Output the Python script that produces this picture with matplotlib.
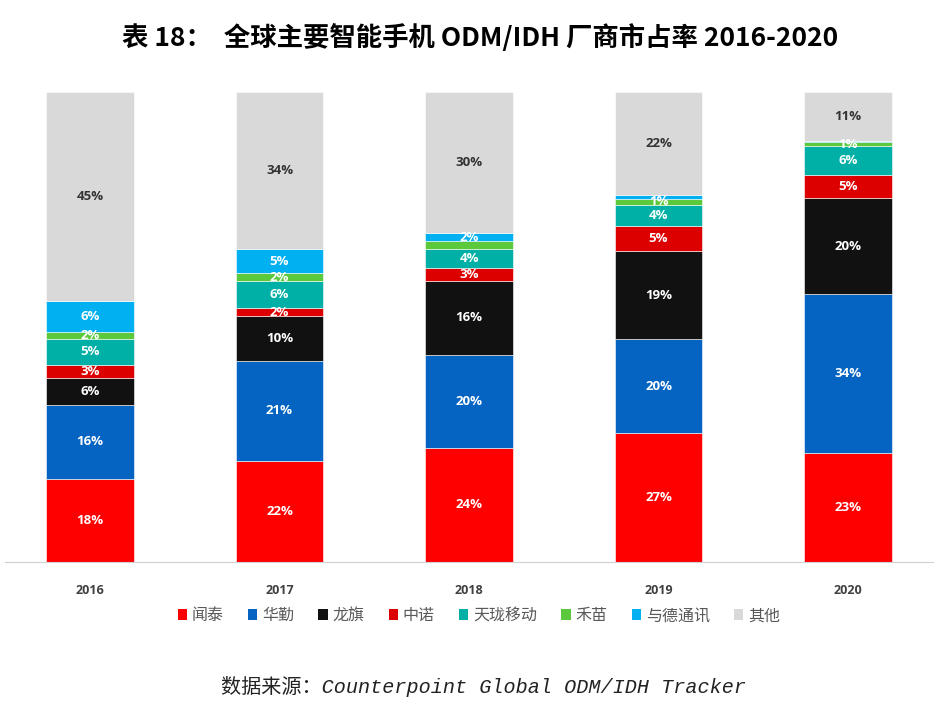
import numpy as np
import matplotlib
matplotlib.use("Agg")
import matplotlib.pyplot as plt
from matplotlib.patches import Patch

plt.rcParams['font.family'] = ['Noto Sans CJK SC', 'DejaVu Sans']

# Datos (cuota de mercado, %)
years = ["2016", "2017", "2018", "2019", "2020"]
series = ["闻泰", "华勤", "龙旗", "中诺", "天珑移动", "禾苗", "与德通讯", "其他"]
wingtech = [17.7, 21.6, 24.3, 27.4, 23.2]
huaqin = [15.8, 21.1, 19.8, 20.0, 33.8]
longcheer = [5.6, 9.6, 15.7, 18.7, 20.4]
cnpc = [2.9, 1.7, 2.8, 5.3, 4.9]
tinno = [5.4, 5.7, 4.0, 4.5, 6.2]
hemiao = [1.6, 1.7, 1.7, 1.4, 0.8]
yude = [6.6, 5.1, 1.7, 0.8, 0.3]
others = [44.4, 33.6, 30.0, 21.9, 10.4]

# Etiquetas visibles ("" = sin etiqueta)
labels = [
    ["18%", "22%", "24%", "27%", "23%"],
    ["16%", "21%", "20%", "20%", "34%"],
    ["6%", "10%", "16%", "19%", "20%"],
    ["3%", "2%", "3%", "5%", "5%"],
    ["5%", "6%", "4%", "4%", "6%"],
    ["2%", "2%", "", "1%", "1%"],
    ["6%", "5%", "2%", "", ""],
    ["45%", "34%", "30%", "22%", "11%"],
]

colors = ["#FF0000", "#0563C1", "#111111", "#DD0000", "#00AFA5", "#5CC93C", "#00B0F0", "#D9D9D9"]
values = [wingtech, huaqin, longcheer, cnpc, tinno, hemiao, yude, others]

fig = plt.figure(figsize=(9.39, 7.20), dpi=100)
ax = fig.add_axes([0.005, 0.2194, 0.989, 0.6528])

x = np.arange(len(years))
bottom = np.zeros(len(years))
for name, vals, col, labs in zip(series, values, colors, labels):
    bars = ax.bar(x, vals, 0.46, bottom=bottom, color=col, edgecolor="white", linewidth=0.4, label=name)
    txt_color = "#333333" if name == "其他" else "white"
    ax.bar_label(bars, labels=labs, label_type="center", color=txt_color, fontsize=9.5,
                 fontweight="bold", family=["Open Sans", "DejaVu Sans"])
    bottom += np.array(vals)

ax.set_xlim(-0.45, 4.45)
ax.set_ylim(0, 100)
ax.set_yticks([])
ax.set_xticks(x)
ax.set_xticklabels(years, fontsize=9, fontweight="bold", color="#404040", family=["Open Sans", "DejaVu Sans"])
ax.tick_params(axis="x", length=0, pad=16)
for s in ["top", "right", "left"]:
    ax.spines[s].set_visible(False)
ax.spines["bottom"].set_color("#D0D0D0")

handles = [Patch(facecolor=c, edgecolor="none") for c in colors]
fig.legend(handles, series, loc="center", bbox_to_anchor=(0.51, 0.145), ncol=8, frameon=False,
           fontsize=11.5, handlelength=0.6, handleheight=0.6, handletextpad=0.3, columnspacing=1.5,
           labelcolor="#595959")

fig.text(0.511, 0.947, "表 18：  全球主要智能手机 ODM/IDH 厂商市占率 2016-2020", ha="center", va="center",
         fontsize=19, fontweight="bold", color="black")
fig.text(0.515, 0.047, "数据来源：Counterpoint Global ODM/IDH Tracker", ha="center", va="center",
         fontsize=14.5, style="italic", color="#222222",
         family=["Liberation Mono", "Noto Sans CJK SC"])

fig.savefig("out.png", dpi=100, facecolor="white")
